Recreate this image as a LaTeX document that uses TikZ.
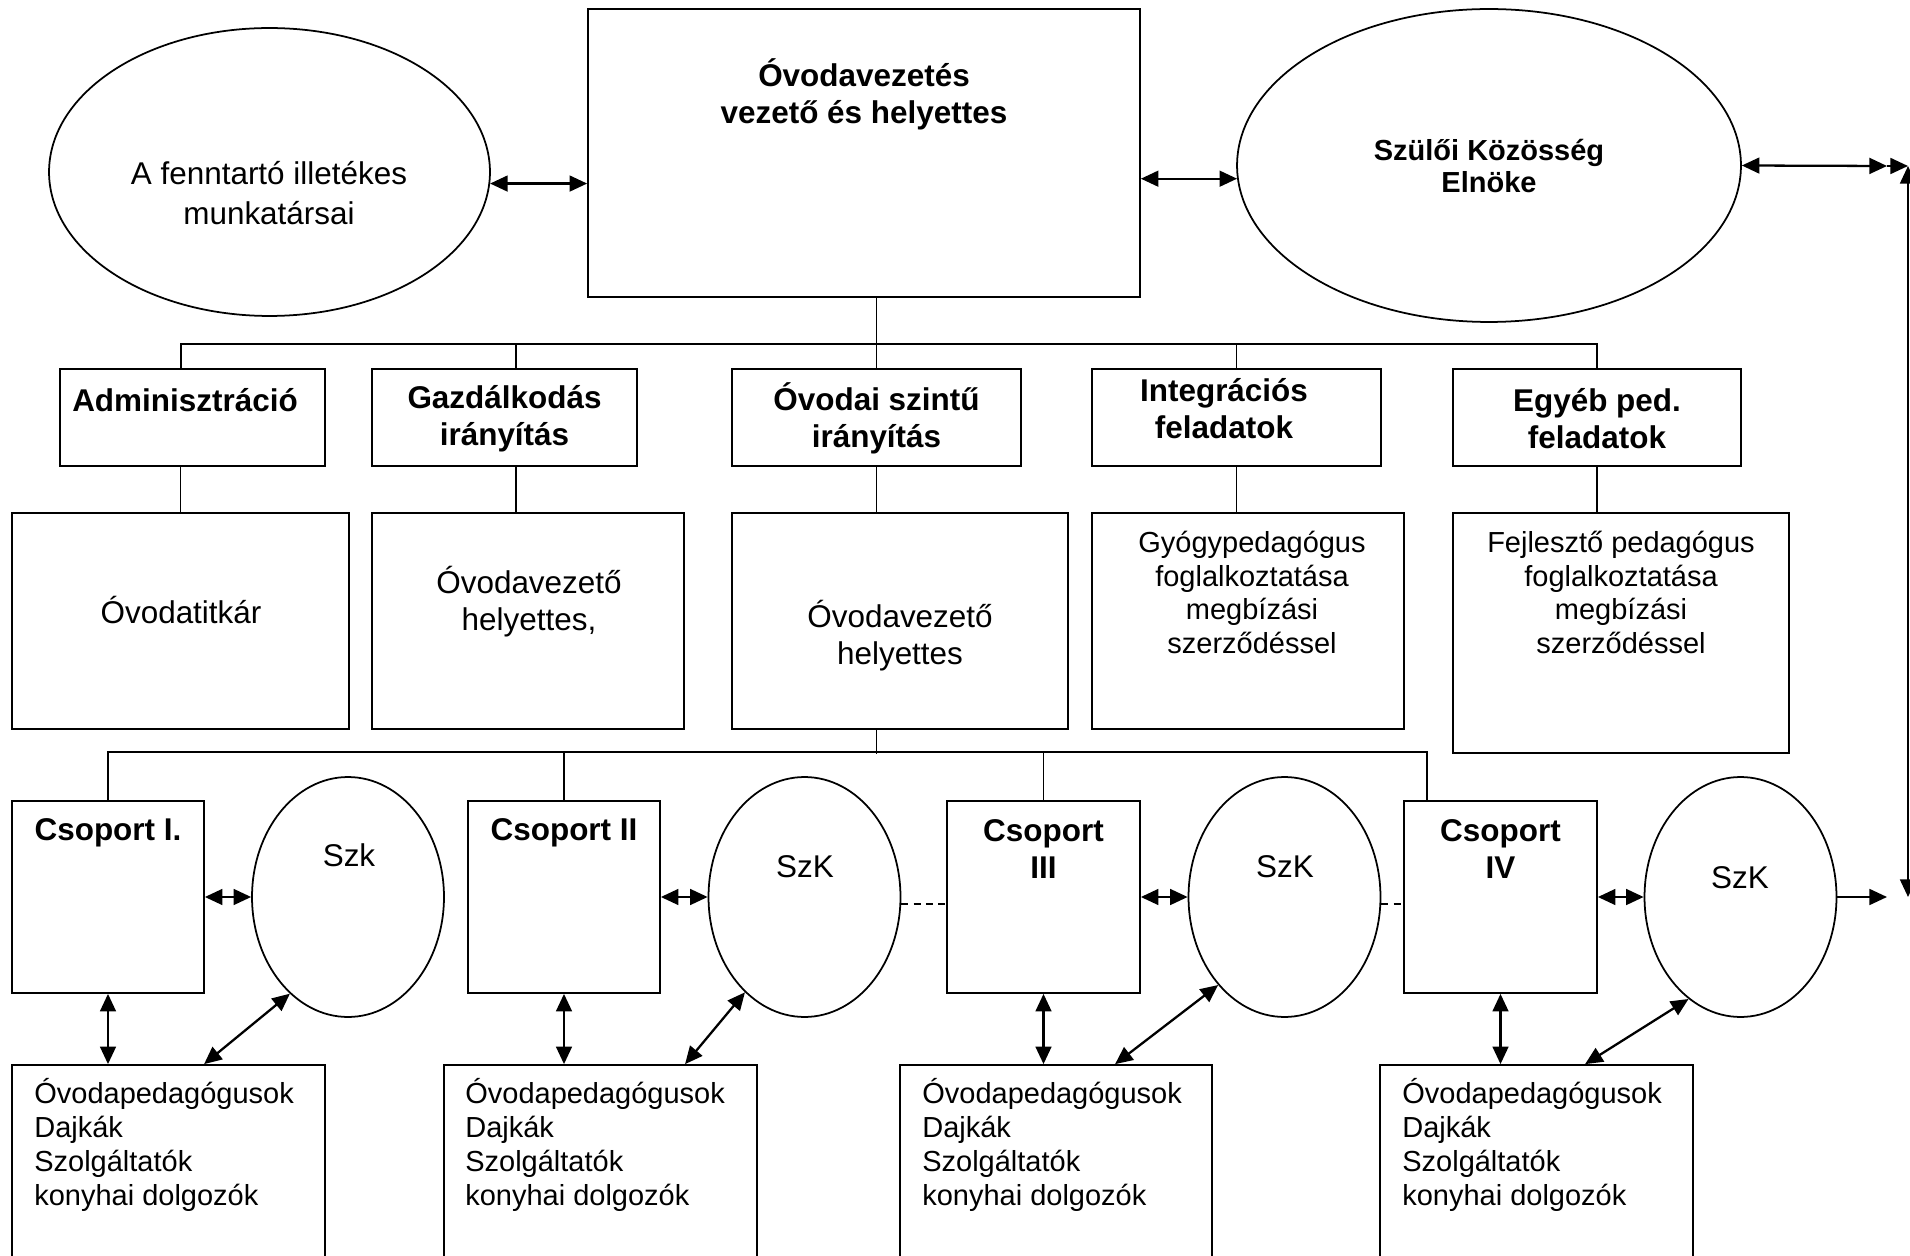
\documentclass[tikz,border=0pt]{standalone}
\usepackage{fontspec}
\setmainfont{Liberation Sans}
\usetikzlibrary{shapes.geometric,arrows.meta,fit}

\newcommand{\bigsz}{\fontsize{17.9}{21}\selectfont}
\newcommand{\smallsz}{\fontsize{16.5}{19.2}\selectfont}

\begin{document}
\begin{tikzpicture}[x=0.02cm,y=-0.02cm]
\tikzstyle{every node}+=[inner sep=0pt]
\tikzstyle{box}=[draw, line width=1pt]
\tikzstyle{ell}=[ellipse, draw, line width=1pt]
\tikzstyle{conn}=[line width=0.8pt]
\tikzstyle{dbl}=[{Triangle[length=10pt,width=9pt]}-{Triangle[length=10pt,width=9pt]}, line width=1.3pt]
\tikzstyle{arr}=[-{Triangle[length=10pt,width=9pt]}, line width=1.3pt]
\tikzstyle{dsh}=[dash pattern=on 4pt off 3pt, line width=0.9pt]
\useasboundingbox (0,0) rectangle (1910,1256);
% top row
\node[box, fit={(588,9) (1140,297)}] (vez) {};
\node[align=center, font=\bfseries\bigsz] (vez-t) at (864,94) {Óvodavezetés\\vezető és helyettes};
\node[ell, minimum width=8.82cm, minimum height=5.76cm] (fenn) at (269.5,172) {};
\node[align=center, font=\fontsize{17.9}{22.8}\selectfont] (fenn-t) at (269,193) {A fenntartó illetékes\\munkatársai};
\node[ell, minimum width=10.08cm, minimum height=6.26cm] (szulo) at (1489,165.5) {};
\node[align=center, font=\bfseries\fontsize{16.5}{18.2}\selectfont] (szulo-t) at (1489,166) {Szülői Közösség\\Elnöke};
% second row
\node[box, fit={(60,369) (325,466)}] (adm) {};
\node[box, fit={(372,369) (637,466)}] (gaz) {};
\node[box, fit={(732,369) (1021,466)}] (ovi) {};
\node[box, fit={(1092,369) (1381,466)}] (int) {};
\node[box, fit={(1453,369) (1741,466)}] (egy) {};
\node[font=\bfseries\bigsz] (adm-t) at (185,400) {Adminisztráció};
\node[align=center, font=\bfseries\bigsz] (gaz-t) at (504.5,418.5) {Gazdálkodás\\irányítás};
\node[align=center, font=\bfseries\bigsz] (ovi-t) at (876.5,418.5) {Óvodai szintű\\irányítás};
\node[align=center, font=\bfseries\bigsz] (int-t) at (1224,408.5) {Integrációs\\feladatok};
\node[align=center, font=\bfseries\bigsz] (egy-t) at (1597,418.5) {Egyéb ped.\\feladatok};
% third row
\node[box, fit={(12,513) (349,729)}] (titk) {};
\node[box, fit={(372,513) (684,729)}] (gh) {};
\node[box, fit={(732,513) (1068,729)}] (oh) {};
\node[box, fit={(1092,513) (1404,729)}] (gyo) {};
\node[box, fit={(1453,513) (1789,753)}] (fej) {};
\node[font=\bigsz] (titk-t) at (181,610) {Óvodatitkár};
\node[align=center, font=\bigsz] (gh-t) at (529,601.5) {Óvodavezető\\helyettes,};
\node[align=center, font=\bigsz] (oh-t) at (900,636) {Óvodavezető\\helyettes};
\node[align=center, font=\smallsz] (gyo-t) at (1252,592.5) {Gyógypedagógus\\foglalkoztatása\\megbízási\\szerződéssel};
\node[align=center, font=\smallsz] (fej-t) at (1621,592.5) {Fejlesztő pedagógus\\foglalkoztatása\\megbízási\\szerződéssel};
% groups
\node[box, fit={(12,801) (204,993)}] (cs1) {};
\node[box, fit={(468,801) (660,993)}] (cs2) {};
\node[box, fit={(947,801) (1140,993)}] (cs3) {};
\node[box, fit={(1404,801) (1597,993)}] (cs4) {};
\node[font=\bfseries\bigsz] (cs1-t) at (108,833) {Csoport I.};
\node[font=\bfseries\bigsz] (cs2-t) at (564,833) {Csoport II};
\node[align=center, font=\bfseries\bigsz] (cs3-t) at (1043.5,849) {Csoport\\III};
\node[align=center, font=\bfseries\bigsz] (cs4-t) at (1500.5,849) {Csoport\\IV};
\node[ell, minimum width=3.84cm, minimum height=4.8cm] (szk1) at (348,897) {};
\node[ell, minimum width=3.84cm, minimum height=4.8cm] (szk2) at (804.5,897) {};
\node[ell, minimum width=3.84cm, minimum height=4.8cm] (szk3) at (1284.5,897) {};
\node[ell, minimum width=3.84cm, minimum height=4.8cm] (szk4) at (1740.5,897) {};
\node[font=\bigsz] (szk1-t) at (349,855) {Szk};
\node[font=\bigsz] (szk2-t) at (805,867) {SzK};
\node[font=\bigsz] (szk3-t) at (1285,867) {SzK};
\node[font=\bigsz] (szk4-t) at (1740,878) {SzK};
% staff boxes
\node[box, fit={(12,1065) (325,1270)}] (bot1) {};
\node[box, fit={(444,1065) (757,1270)}] (bot2) {};
\node[box, fit={(900,1065) (1212,1270)}] (bot3) {};
\node[box, fit={(1380,1065) (1693,1270)}] (bot4) {};
\node[anchor=west, align=left, font=\smallsz] (bot1-t) at (34,1145) {Óvodapedagógusok\\Dajkák\\Szolgáltatók\\konyhai dolgozók};
\node[anchor=west, align=left, font=\smallsz] (bot2-t) at (465,1145) {Óvodapedagógusok\\Dajkák\\Szolgáltatók\\konyhai dolgozók};
\node[anchor=west, align=left, font=\smallsz] (bot3-t) at (922,1145) {Óvodapedagógusok\\Dajkák\\Szolgáltatók\\konyhai dolgozók};
\node[anchor=west, align=left, font=\smallsz] (bot4-t) at (1402,1145) {Óvodapedagógusok\\Dajkák\\Szolgáltatók\\konyhai dolgozók};
% tree lines
\draw[conn] (ovi.north |- vez.south) -- (ovi.north);
\draw[conn] ([xshift=-0.23cm]adm.north) -- ++(0,-24) -| (egy.north);
\draw[conn] ([xshift=0.23cm]gaz.north) -- ++(0,-24);
\draw[conn] (int.north) -- ++(0,-24);
\draw[conn] (titk.north) -- (titk.north |- adm.south);
\draw[conn] ([xshift=0.23cm]gaz.south) -- ++(0,47);
\draw[conn] (ovi.south) -- (ovi.south |- oh.north);
\draw[conn] (int.south) -- (int.south |- gyo.north);
\draw[conn] (egy.south) -- (egy.south |- fej.north);
\draw[conn] (ovi.south |- oh.south) -- ++(0,24);
\draw[conn] (cs1.north) -- ++(0,-48) -| ([xshift=-1.47cm]cs4.north);
\draw[conn] (cs2.north) -- ++(0,-48);
\draw[conn] (cs3.north) -- ++(0,-48);
% arrows, top
\draw[dbl] (fenn.-3) -- (fenn.-3 -| vez.west);
\draw[dbl] (vez.east |- szulo.183) -- (szulo.183);
\coordinate (jt) at (1887,166);
\coordinate (rt) at (1908,166);
\coordinate (rb) at (1908,897);
\coordinate (jb) at (1887,897);
\draw[dbl] (szulo.east) -- (jt);
\draw[arr] (jt) -- (rt);
\draw[dbl] (rt) -- (rb);
\draw[arr] (szk4.east) -- (jb);
% arrows, groups
\draw[dbl] (cs1.east) -- (szk1.west);
\draw[dbl] (cs2.east) -- (szk2.west);
\draw[dbl] (cs3.east) -- (szk3.west);
\draw[dbl] (cs4.east) -- (szk4.west);
\draw[dbl] (cs1.south) -- (cs1.south |- bot1.north);
\draw[dbl] (cs2.south) -- (cs2.south |- bot2.north);
\draw[dbl] (cs3.south) -- (cs3.south |- bot3.north);
\draw[dbl] (cs4.south) -- (cs4.south |- bot4.north);
\draw[dbl] ([xshift=3.86cm]bot1.north west) -- (szk1.239);
\draw[dbl] ([xshift=4.84cm]bot2.north west) -- (szk2.238);
\draw[dbl] ([xshift=4.32cm]bot3.north west) -- (szk3.233);
\draw[dbl] ([xshift=4.12cm]bot4.north west) -- (szk4.243);
\draw[dsh] (szk2.-4) -- (szk2.-4 -| cs3.west);
\draw[dsh] (szk3.-4) -- (szk3.-4 -| cs4.west);
\end{tikzpicture}
\end{document}
